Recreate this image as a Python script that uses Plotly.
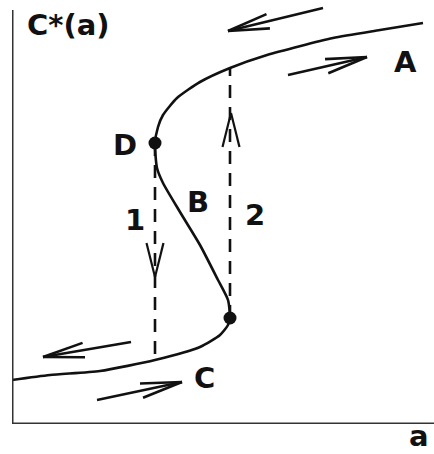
import math
import plotly.graph_objects as go

# S-shaped steady-state curve C*(a): lower branch (C), middle branch (B), upper branch (A)
lower_a = [0.00, 0.38, 0.88, 1.43, 1.88, 2.08, 2.16, 2.18]
lower_c = [0.44, 0.49, 0.53, 0.64, 0.77, 0.89, 0.99, 1.06]

middle_a = [2.18, 2.16, 2.06, 1.88, 1.68, 1.51, 1.45, 1.43]
middle_c = [1.06, 1.24, 1.44, 1.79, 2.12, 2.41, 2.56, 2.81]

upper_a = [1.43, 1.46, 1.51, 1.65, 1.88, 2.18, 2.55, 3.21, 3.68, 4.11]
upper_c = [2.81, 2.97, 3.09, 3.26, 3.42, 3.56, 3.69, 3.86, 3.94, 4.01]

# turning points D (upper) and lower fold
fold_a = [1.43, 2.18]
fold_c = [2.81, 1.06]

# jump transitions: 1 drops from D to the lower branch, 2 rises from the lower fold to the upper branch
jump1_a = [1.43, 1.43]
jump1_c = [2.81, 0.64]
jump2_a = [2.18, 2.18]
jump2_c = [1.06, 3.56]
jump1_head = (1.43, 1.47)   # arrow tip on jump 1 (pointing down)
jump2_head = (2.19, 3.11)   # arrow tip on jump 2 (pointing up)

# direction-of-sweep arrows along the branches: (tail_a, tail_c, tip_a, tip_c)
sweep_arrows = [
    (3.11, 4.16, 2.16, 3.93),
    (2.76, 3.49, 3.55, 3.67),
    (1.19, 0.82, 0.31, 0.67),
    (0.85, 0.24, 1.70, 0.42),
]

labels = [
    ("A", 3.93, 3.62),
    ("B", 1.86, 2.22),
    ("C", 1.92, 0.46),
    ("D", 1.13, 2.79),
    ("1", 1.23, 2.04),
    ("2", 2.43, 2.09),
]

X_MAX, Y_MAX = 4.22, 4.24
INK = "#111111"
FONT = "DejaVu Sans, Arial, sans-serif"

fig = go.Figure()

curve_a = lower_a + middle_a[1:] + upper_a[1:]
curve_c = lower_c + middle_c[1:] + upper_c[1:]
fig.add_trace(go.Scatter(x=curve_a, y=curve_c, mode="lines",
                         line=dict(color=INK, width=2.6, shape="spline", smoothing=0.6)))

for xs, ys in ((jump1_a, jump1_c), (jump2_a, jump2_c)):
    fig.add_trace(go.Scatter(x=xs, y=ys, mode="lines",
                             line=dict(color=INK, width=2.6, dash="13px,9px")))


def open_head(tip, back_dir, length, spread):
    """Two wing segments of an open arrowhead ending at tip."""
    bx, by = back_dir
    n = math.hypot(bx, by)
    bx, by = bx / n, by / n
    xs, ys = [], []
    for s in (-1, 1):
        ang = s * spread
        wx = bx * math.cos(ang) - by * math.sin(ang)
        wy = bx * math.sin(ang) + by * math.cos(ang)
        xs += [tip[0] + wx * length, tip[0], None]
        ys += [tip[1] + wy * length, tip[1], None]
    return xs, ys


# arrowheads on the jump lines
for tip, back in ((jump1_head, (0, 1)), (jump2_head, (0, -1))):
    hx, hy = open_head(tip, back, 0.35, math.radians(14))
    fig.add_trace(go.Scatter(x=hx, y=hy, mode="lines", line=dict(color=INK, width=2.2)))

# sweep arrows
for ta, tc, ha, hc in sweep_arrows:
    hx, hy = open_head((ha, hc), (ta - ha, tc - hc), 0.42, math.radians(10))
    fig.add_trace(go.Scatter(x=[ta, ha, None] + hx, y=[tc, hc, None] + hy, mode="lines",
                             line=dict(color=INK, width=2.6)))

fig.add_trace(go.Scatter(x=fold_a, y=fold_c, mode="markers",
                         marker=dict(color=INK, size=13, symbol="circle")))

for text, xa, yc in labels:
    fig.add_annotation(x=xa, y=yc, text="<b>%s</b>" % text, showarrow=False,
                       font=dict(family=FONT, size=29, color=INK))

fig.add_annotation(x=0.13, y=3.99, text="<b>C*(a)</b>", showarrow=False, xanchor="left",
                   font=dict(family=FONT, size=29, color=INK))
# axis name under the a-axis, kept inside the bottom margin
fig.add_annotation(x=4.07, xref="x", y=-0.0708, yref="paper", yanchor="bottom",
                   text="<b>a</b>", showarrow=False, borderpad=0,
                   font=dict(family=FONT, size=29, color=INK))

# axes drawn as heavy lines
fig.add_shape(type="line", x0=0, y0=-0.02, x1=0, y1=4.14, line=dict(color="#333333", width=3))
fig.add_shape(type="line", x0=-0.01, y0=0, x1=X_MAX, y1=0, line=dict(color="#333333", width=3))
fig.add_shape(type="line", x0=2.18, y0=0, x1=2.18, y1=-0.03, line=dict(color="#333333", width=2))

fig.update_layout(
    width=434, height=454,
    margin=dict(l=12, r=0, t=0, b=30),
    paper_bgcolor="white", plot_bgcolor="white",
    showlegend=False, hovermode=False,
    xaxis=dict(range=[0, X_MAX], visible=False, fixedrange=True),
    yaxis=dict(range=[0, Y_MAX], visible=False, fixedrange=True),
)
for tr in fig.data:
    tr.cliponaxis = False

fig.write_html("out.html")
